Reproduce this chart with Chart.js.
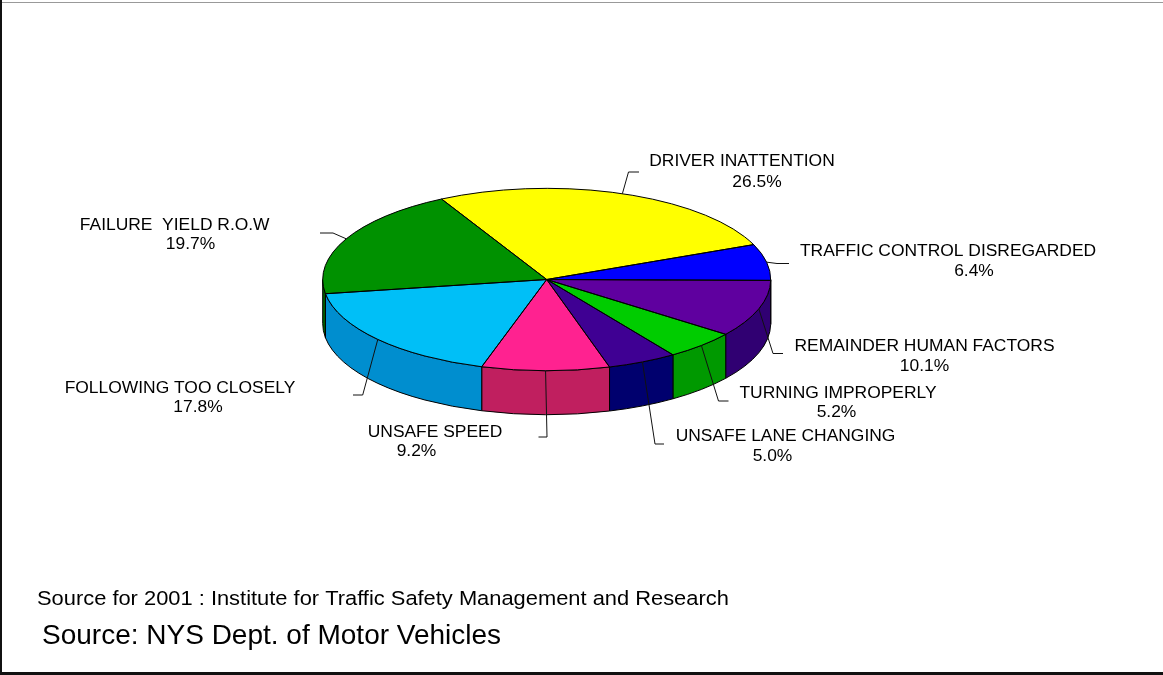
<!DOCTYPE html>
<html>
<head>
<meta charset="utf-8">
<title>Crash causes pie</title>
<script src="https://cdn.jsdelivr.net/npm/chart.js"></script>
<style>
  body { margin: 0; background: #fff; }
  canvas { display: block; }
</style>
</head>
<body>
<canvas id="pie" width="1163" height="675"></canvas>
<script>
// Data
const categories = [
  "DRIVER INATTENTION",
  "TRAFFIC CONTROL DISREGARDED",
  "REMAINDER HUMAN FACTORS",
  "TURNING IMPROPERLY",
  "UNSAFE LANE CHANGING",
  "UNSAFE SPEED",
  "FOLLOWING TOO CLOSELY",
  "FAILURE  YIELD R.O.W",
];
const shares = [26.5, 6.4, 10.1, 5.2, 5.0, 9.2, 17.8, 19.7];

const sourceLines = [
  "Source for 2001 : Institute for Traffic Safety Management and Research",
  "Source: NYS Dept. of Motor Vehicles",
];

// Colours: top face and the darker side wall
const topColors = ["#FFFF00", "#0000FF", "#5F009F", "#00CC00", "#3F0093", "#FF2290", "#00BFF7", "#009100"];
const sideColors = ["#BFBF00", "#0000A0", "#300072", "#009900", "#00006E", "#C01F5F", "#008ECF", "#006000"];

// 3D look
const tilt = 0.407; // vertical squash of the pie
const depth = 44; // thickness of the side wall

// where each label and its leader line go (t1/t2 = text centre x, baseline y)
const labelSpots = [
  { elbow: [628.5, 172], end: 639, t1: [742, 166], t2: [757, 187] },
  { elbow: [777, 263.5], end: 789, t1: [948, 256], t2: [974, 276] },
  { elbow: [773, 353.5], end: 783, t1: [924.5, 351], t2: [924.5, 371] },
  { elbow: [718.5, 401], end: 728.5, t1: [838, 398], t2: [836.5, 417] },
  { elbow: [655, 444], end: 664, t1: [785.5, 441], t2: [772.5, 461] },
  { elbow: [547, 437], end: 538.5, t1: [435, 437], t2: [416.5, 456] },
  { elbow: [362.7, 395], end: 353, t1: [180, 392.5], t2: [198, 411.5] },
  { elbow: [333, 233], end: 320, t1: [174.7, 230], t2: [190.5, 249] },
];

const FONT = '"Liberation Sans", Arial, sans-serif';

function stretchText(ctx, text, x, y, size, sx, align) {
  ctx.save();
  ctx.font = size + "px " + FONT;
  ctx.textAlign = align;
  ctx.textBaseline = "alphabetic";
  ctx.fillStyle = "#000";
  ctx.translate(x, y);
  ctx.scale(sx, 1);
  ctx.fillText(text, 0, 0);
  ctx.restore();
}

// pull the geometry of every slice out of the chart
function sliceGeometry(chart) {
  const arcs = chart.getDatasetMeta(0).data;
  return arcs.map((arc) => {
    const p = arc.getProps(["x", "y", "startAngle", "endAngle", "outerRadius"], true);
    return {
      cx: p.x,
      cy: p.y,
      rx: p.outerRadius,
      ry: p.outerRadius * tilt,
      s: p.startAngle,
      e: p.endAngle,
    };
  });
}

const pie3d = {
  id: "pie3d",
  beforeDatasetsDraw(chart) {
    const ctx = chart.ctx;
    const slices = sliceGeometry(chart);

    // side walls, only the front half (angles 0..PI) shows
    const fronts = [[0, Math.PI], [2 * Math.PI, 3 * Math.PI], [-2 * Math.PI, -Math.PI]];
    ctx.save();
    ctx.lineWidth = 1;
    ctx.strokeStyle = "#000";
    slices.forEach((g, i) => {
      fronts.forEach(([lo, hi]) => {
        const a = Math.max(g.s, lo);
        const b = Math.min(g.e, hi);
        if (a >= b) return;
        ctx.beginPath();
        ctx.ellipse(g.cx, g.cy, g.rx, g.ry, 0, a, b, false);
        ctx.lineTo(g.cx + g.rx * Math.cos(b), g.cy + g.ry * Math.sin(b) + depth);
        ctx.ellipse(g.cx, g.cy + depth, g.rx, g.ry, 0, b, a, true);
        ctx.closePath();
        ctx.fillStyle = sideColors[i];
        ctx.fill();
        ctx.stroke();
      });
    });
    ctx.restore();

    // squash the round pie into an ellipse
    const cy = slices[0].cy;
    ctx.save();
    ctx.translate(0, cy);
    ctx.scale(1, tilt);
    ctx.translate(0, -cy);
  },
  afterDatasetsDraw(chart) {
    const ctx = chart.ctx;
    ctx.restore();

    // outlines of the top face, drawn unsquashed so lines stay 1px
    const slices = sliceGeometry(chart);
    ctx.save();
    ctx.lineWidth = 1;
    ctx.strokeStyle = "#000";
    slices.forEach((g) => {
      ctx.beginPath();
      ctx.moveTo(g.cx, g.cy);
      ctx.lineTo(g.cx + g.rx * Math.cos(g.s), g.cy + g.ry * Math.sin(g.s));
      ctx.ellipse(g.cx, g.cy, g.rx, g.ry, 0, g.s, g.e, false);
      ctx.closePath();
      ctx.stroke();
    });
    ctx.restore();
  },
  afterDraw(chart) {
    const ctx = chart.ctx;
    const slices = sliceGeometry(chart);

    // leader lines and labels
    ctx.save();
    ctx.lineWidth = 1;
    ctx.strokeStyle = "#111";
    slices.forEach((g, i) => {
      const spot = labelSpots[i];
      const mid = (g.s + g.e) / 2;
      const ax = g.cx + g.rx * Math.cos(mid);
      const ay = g.cy + g.ry * Math.sin(mid);
      ctx.beginPath();
      ctx.moveTo(ax, ay);
      ctx.lineTo(spot.elbow[0], spot.elbow[1]);
      ctx.lineTo(spot.end, spot.elbow[1]);
      ctx.stroke();

      const value = chart.data.datasets[0].data[i];
      stretchText(ctx, chart.data.labels[i], spot.t1[0], spot.t1[1], 16.3, 1.07, "center");
      stretchText(ctx, value.toFixed(1) + "%", spot.t2[0], spot.t2[1], 16.3, 1.07, "center");
    });
    ctx.restore();

    // source notes
    stretchText(ctx, sourceLines[0], 37, 604.5, 20.5, 1.067, "left");
    stretchText(ctx, sourceLines[1], 42, 643.5, 28, 1.0, "left");

    // frame
    ctx.save();
    ctx.fillStyle = "#999";
    ctx.fillRect(0, 2, chart.width, 1);
    ctx.fillStyle = "#111";
    ctx.fillRect(0, 0, 2, chart.height);
    ctx.fillRect(0, chart.height - 3, chart.width, 3);
    ctx.restore();
  },
};

function renderChart() {
  const ctx = document.getElementById("pie").getContext("2d");
  new Chart(ctx, {
    type: "pie",
    data: {
      labels: categories,
      datasets: [
        {
          data: shares,
          backgroundColor: topColors,
          borderWidth: 0,
        },
      ],
    },
    options: {
      responsive: false,
      animation: false,
      devicePixelRatio: 1,
      events: [],
      rotation: -28,
      layout: {
        // square chart area centred on the pie: 448px across
        padding: { left: 322.7, right: 392.3, top: 55.5, bottom: 171.5 },
      },
      plugins: {
        legend: { display: false },
        tooltip: { enabled: false },
      },
    },
    plugins: [pie3d],
  });
}

window.onload = function () {
  renderChart();
};
</script>
</body>
</html>
